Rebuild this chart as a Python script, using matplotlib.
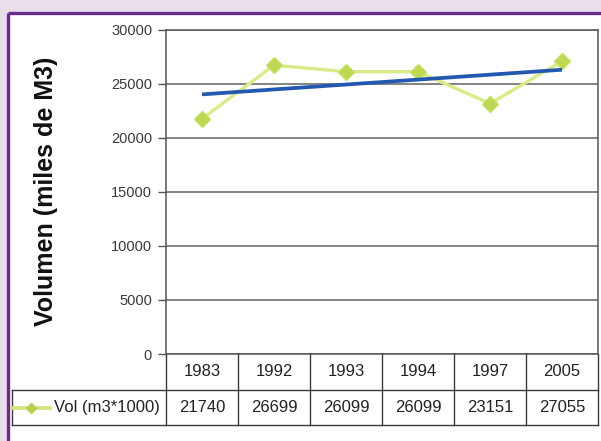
import numpy as np
import matplotlib
matplotlib.use("Agg")
import matplotlib.pyplot as plt
from matplotlib.transforms import blended_transform_factory
from matplotlib.lines import Line2D
from matplotlib.patches import Rectangle

plt.rcParams['font.family'] = ['Liberation Sans', 'DejaVu Sans']

# Data
years = ["1983", "1992", "1993", "1994", "1997", "2005"]
volume = [21740, 26699, 26099, 26099, 23151, 27055]
series_label = "Vol (m3*1000)"
y_label = "Volumen (miles de M3)"
y_ticks = [0, 5000, 10000, 15000, 20000, 25000, 30000]

W, H = 601, 441
fig = plt.figure(figsize=(W / 100, H / 100), dpi=100, facecolor='#e9dfea')

# White card with purple frame (pixel coordinates overlay)
bg = fig.add_axes([0, 0, 1, 1], zorder=-5)
bg.set_xlim(0, W)
bg.set_ylim(H, 0)
bg.axis('off')
bg.add_patch(Rectangle((8, 12.5), W, H, facecolor='white', edgecolor='none'))
bg.plot([8, 8], [12.5, H + 5], color='#6a2a8e', lw=2.4, solid_capstyle='butt')
bg.plot([8, W + 5], [12.5, 12.5], color='#6a2a8e', lw=2.4, solid_capstyle='butt')

# Plot area
left, right, top, bottom = 166, 598, 29.5, 354
ax = fig.add_axes([left / W, 1 - bottom / H, (right - left) / W, (bottom - top) / H])
ax.set_facecolor('white')

x = np.arange(len(years))
ax.set_xlim(-0.5, len(years) - 0.5)
ax.set_ylim(0, 30000)
ax.set_yticks(y_ticks)
ax.set_yticklabels([str(t) for t in y_ticks])
ax.set_xticks([])
ax.tick_params(axis='y', length=6, width=1, color='#555555', labelsize=10.5,
               labelcolor='#3a3a3a', pad=4)
ax.yaxis.grid(True, color='#6e6e6e', lw=1.2)
ax.set_axisbelow(True)
for s in ax.spines.values():
    s.set_color('#555555')
    s.set_linewidth(1.1)

# Series and linear trend
ax.plot(x, volume, color='#d8ec88', lw=2.4, marker='D', markersize=8.5,
        markerfacecolor='#bdd852', markeredgecolor='#c6de64', zorder=3)
coef = np.polyfit(x + 1, volume, 1)
trend = np.polyval(coef, x + 1)
ax.plot(x, trend, color='#2258b0', lw=2.7, zorder=4, solid_capstyle='butt')

ax.set_ylabel(y_label, fontsize=18, fontweight='bold', color='#111111')
ax.yaxis.set_label_coords(-(left - 58) / (right - left), 0.5)

# Data table beneath the axis
ax_h = bottom - top
ax_w = right - left
r1 = -(390 - bottom) / ax_h
r2 = -(425 - bottom) / ax_h
leg_left = -(left - 12) / ax_w
tr = blended_transform_factory(ax.transData, ax.transAxes)
line_kw = dict(color='#3a3a3a', lw=1.0, clip_on=False)

for b in np.arange(-0.5, len(years)):
    ax.add_line(Line2D([b, b], [0, r2], transform=tr, **line_kw))
ax.add_line(Line2D([leg_left, 1], [r1, r1], transform=ax.transAxes, **line_kw))
ax.add_line(Line2D([leg_left, 1], [r2, r2], transform=ax.transAxes, **line_kw))
ax.add_line(Line2D([leg_left, leg_left], [r1, r2], transform=ax.transAxes, **line_kw))

for i, (yr, v) in enumerate(zip(years, volume)):
    ax.text(i, r1 / 2, yr, transform=tr, ha='center', va='center',
            fontsize=12, color='#222222')
    ax.text(i, (r1 + r2) / 2, str(v), transform=tr, ha='center', va='center',
            fontsize=12, color='#222222')

# Legend key in the table row header
ky = (r1 + r2) / 2
k0 = leg_left
k1 = -(left - 50) / ax_w
km = -(left - 31) / ax_w
ax.add_line(Line2D([k0, k1], [ky, ky], transform=ax.transAxes, color='#cfe47a',
                   lw=2.6, clip_on=False, zorder=5))
ax.add_line(Line2D([km], [ky], transform=ax.transAxes, marker='D', markersize=5,
                   markerfacecolor='#b4d24a', markeredgecolor='#b4d24a',
                   clip_on=False, zorder=6))
ax.text(-(left - 160) / ax_w, ky, series_label, transform=ax.transAxes,
        ha='right', va='center', fontsize=12, color='#222222')

fig.savefig('out.png', dpi=100, facecolor=fig.get_facecolor())
